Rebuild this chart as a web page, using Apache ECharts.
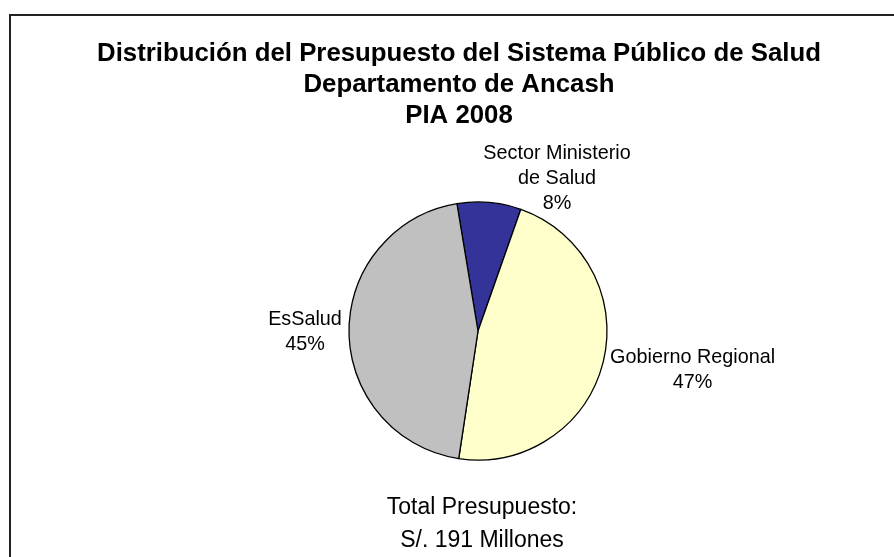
<!DOCTYPE html>
<html>
<head>
<meta charset="utf-8">
<script src="https://cdn.jsdelivr.net/npm/echarts@6/dist/echarts.min.js"></script>
<style>
  html, body { margin: 0; padding: 0; background: #fff; }
  #chart { width: 894px; height: 557px; }
</style>
</head>
<body>
<div id="chart"></div>
<script>
// datos del grafico
var categories = ['Sector Ministerio\nde Salud', 'Gobierno Regional', 'EsSalud'];
var percents = [8, 47, 45];
var sliceColors = ['#333399', '#FFFFCC', '#C0C0C0'];
var titleLines = ['Distribución del Presupuesto del Sistema Público de Salud', 'Departamento de Ancash', 'PIA 2008'];
var footerLines = ['Total Presupuesto:', 'S/. 191 Millones'];

// desplazamiento de etiquetas (estilo Excel)
var labelOffsets = [[61, -4], [65, 2.5], [-19, 0]];

var FONT = "'Liberation Sans', Arial, sans-serif";

function pieRender() {
    var chart = echarts.init(document.getElementById('chart'));

    var pieData = [];
    for (var i = 0; i < categories.length; i++) {
        pieData.push({
            name: categories[i],
            value: percents[i],
            itemStyle: { color: sliceColors[i] }
        });
    }

    var graphics = [{
        type: 'rect',
        shape: { x: 10, y: 15, width: 1000, height: 1000 },
        style: { fill: 'none', stroke: '#222', lineWidth: 2 },
        silent: true
    }];
    // titulo en tres lineas
    for (var t = 0; t < titleLines.length; t++) {
        graphics.push({
            type: 'text',
            x: 459,
            y: 54 + t * 31,
            style: {
                text: titleLines[t],
                align: 'center',
                verticalAlign: 'middle',
                fill: '#000',
                font: 'bold 25.8px ' + FONT
            }
        });
    }
    // total al pie
    for (var f = 0; f < footerLines.length; f++) {
        graphics.push({
            type: 'text',
            x: 482,
            y: 508 + f * 33,
            style: {
                text: footerLines[f],
                align: 'center',
                verticalAlign: 'middle',
                fill: '#000',
                font: '23px ' + FONT
            }
        });
    }

    var option = {
        backgroundColor: '#fff',
        animation: false,
        graphic: graphics,
        series: [{
            type: 'pie',
            center: [478, 331],
            radius: 129,
            startAngle: 99.4,
            clockwise: true,
            avoidLabelOverlap: false,
            silent: true,
            itemStyle: {
                borderColor: '#000',
                borderWidth: 1.3
            },
            label: {
                show: true,
                position: 'outside',
                color: '#000',
                fontFamily: FONT,
                fontSize: 19.8,
                lineHeight: 25,
                formatter: function (p) {
                    return p.name + '\n' + Math.round(p.percent) + '%';
                }
            },
            labelLine: { show: false, length: 20, length2: 0 },
            labelLayout: function (params) {
                var o = labelOffsets[params.dataIndex];
                return { align: 'center', dx: o[0], dy: o[1] };
            },
            data: pieData
        }]
    };
    chart.setOption(option);
}

pieRender();
</script>
</body>
</html>
